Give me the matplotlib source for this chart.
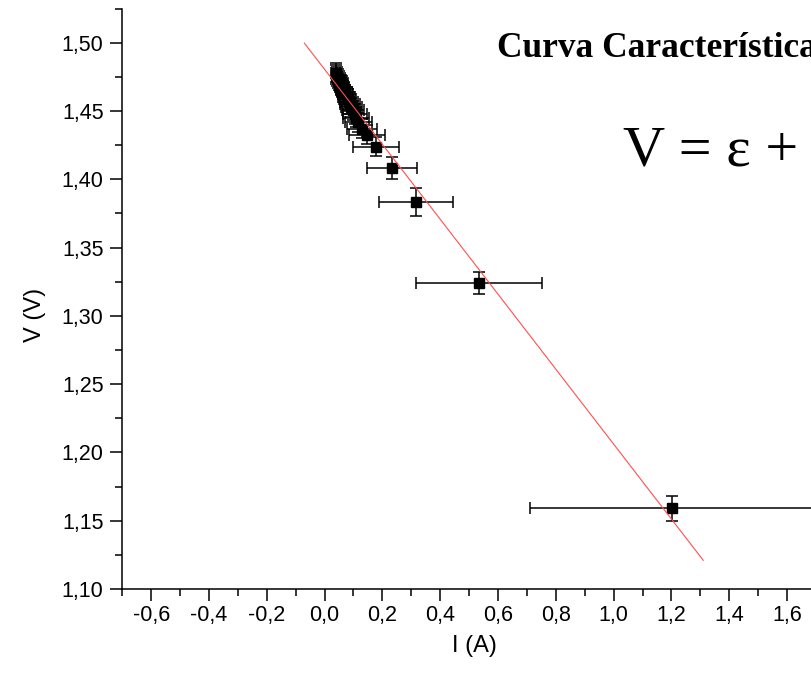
import numpy as np
from matplotlib import pyplot as plt
from matplotlib.ticker import MultipleLocator, FuncFormatter

# dados: corrente I (A) e tensão V (V)
corrente = [0.038, 0.041, 0.044, 0.047, 0.050, 0.053, 0.056, 0.059, 0.062, 0.065,
            0.068, 0.072, 0.076, 0.080, 0.084, 0.088, 0.093, 0.098, 0.104, 0.110,
            0.117, 0.128, 0.146, 0.177, 0.232, 0.315, 0.534, 1.201]
tensao = [1.4779, 1.4765, 1.4752, 1.4738, 1.4724, 1.4711, 1.4697, 1.4683, 1.4670, 1.4656,
          1.4642, 1.4624, 1.4606, 1.4588, 1.4569, 1.4551, 1.4528, 1.4506, 1.4478, 1.4451,
          1.4419, 1.4369, 1.4325, 1.4239, 1.4085, 1.3836, 1.3239, 1.1591]
erro_i = [0.016, 0.016, 0.017, 0.018, 0.019, 0.020, 0.021, 0.022, 0.023, 0.024,
          0.026, 0.027, 0.029, 0.030, 0.032, 0.034, 0.037, 0.039, 0.042, 0.045,
          0.048, 0.052, 0.062, 0.079, 0.086, 0.128, 0.218, 0.492]
erro_v = [0.007] * 22 + [0.007, 0.0071, 0.008, 0.0103, 0.0082, 0.009]

# ajuste linear V = eps + r*I
eps = 1.4805
r = -0.2744
faixa_ajuste = [-0.07, 1.31]

plt.rcParams['font.family'] = ['Liberation Sans', 'DejaVu Sans']

fig = plt.figure(figsize=(8.12, 6.76), dpi=100)
ax = fig.add_axes([0.1506, 0.1287, 0.961, 0.8586])

ax.errorbar(corrente, tensao, xerr=erro_i, yerr=erro_v, fmt='s', color='black',
            ms=6.5, elinewidth=1.1, capsize=4, capthick=1.1, zorder=2)
xa = np.array(faixa_ajuste)
ax.plot(xa, eps + r * xa, color='#ff5050', lw=0.8, zorder=3)

ax.set_xlim(-0.7, 2.0)
ax.set_ylim(1.10, 1.525)
ax.xaxis.set_major_locator(MultipleLocator(0.2))
ax.xaxis.set_minor_locator(MultipleLocator(0.1))
ax.yaxis.set_major_locator(MultipleLocator(0.05))
ax.yaxis.set_minor_locator(MultipleLocator(0.025))
ax.xaxis.set_major_formatter(FuncFormatter(lambda v, p: f"{v:.1f}".replace('.', ',').replace('-0,0', '0,0')))
ax.yaxis.set_major_formatter(FuncFormatter(lambda v, p: f"{v:.2f}".replace('.', ',')))
ax.tick_params(which='major', direction='out', length=8.5, width=1.1, labelsize=15.5)
ax.tick_params(axis='x', which='major', pad=3)
ax.tick_params(axis='y', which='major', pad=5)
ax.tick_params(which='minor', direction='out', length=5, width=1.1)
ax.spines['top'].set_visible(False)
ax.spines['right'].set_visible(False)
ax.spines['left'].set_linewidth(1.1)
ax.spines['bottom'].set_linewidth(1.1)

ax.set_xlabel('I (A)', fontsize=17, va='center')
ax.xaxis.set_label_coords((474 - 122.3) / 780.3, (589 - 646) / 580.4)
ax.set_ylabel('V (V)', fontsize=17, va='center')
ax.yaxis.set_label_coords((35 - 122.3) / 780.3, (589 - 315) / 580.4)

fig.text(497 / 812, 1 - 56.7 / 676, 'Curva Característica', fontsize=25.5,
         fontweight='bold', family='Liberation Serif', ha='left', va='baseline')
fig.text(623 / 812, 1 - 165 / 676, 'V = ε + r I', fontsize=42,
         family='Liberation Serif', ha='left', va='baseline')

fig.savefig('out.png', dpi=100)
